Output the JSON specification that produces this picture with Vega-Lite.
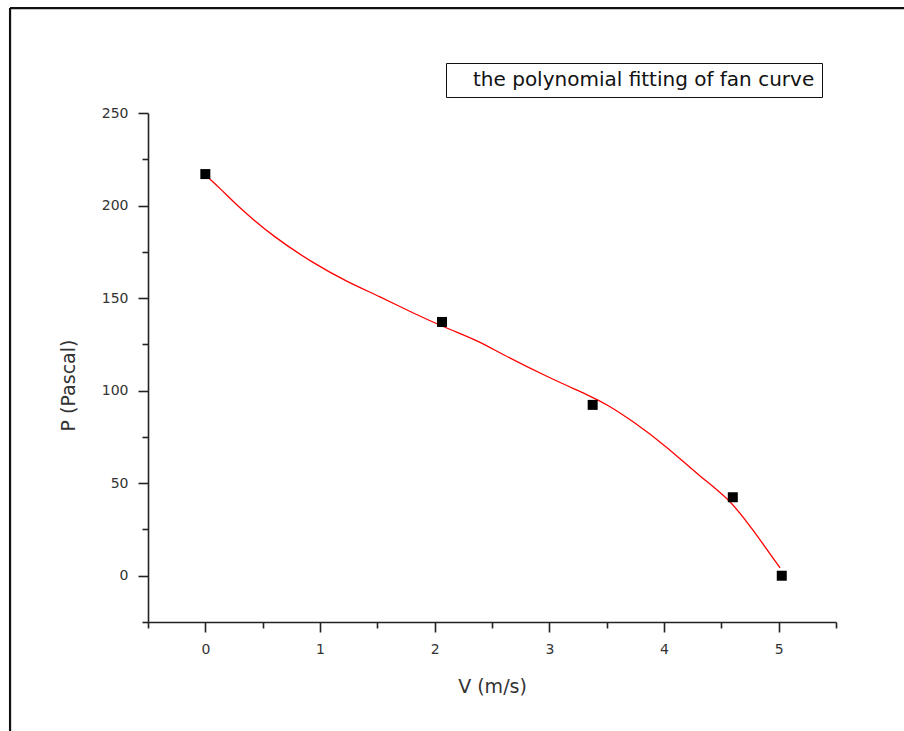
{
  "$schema": "https://vega.github.io/schema/vega-lite/v6.json",
  "autosize": "none",
  "width": 688,
  "height": 509,
  "padding": {"left": 148, "top": 113, "right": 68, "bottom": 109},
  "background": "white",
  "config": {
    "view": {"stroke": null},
    "axis": {
      "grid": false,
      "domainColor": "#222",
      "domainWidth": 1.6,
      "tickColor": "#222",
      "tickWidth": 1.6,
      "labelFont": "DejaVu Sans",
      "labelFontSize": 14,
      "labelColor": "#333",
      "titleFont": "DejaVu Sans",
      "titleFontSize": 19,
      "titleFontWeight": "normal",
      "titleColor": "#333"
    }
  },
  "datasets": {
    "measured": [
      {"v": 0.0, "p": 217},
      {"v": 2.064, "p": 137.1},
      {"v": 3.378, "p": 92.3},
      {"v": 4.6, "p": 42.4},
      {"v": 5.027, "p": 0}
    ],
    "fit": [
      {"v": 0.01, "p": 216, "series": "the polynomial fitting of fan curve"},
      {"v": 0.128, "p": 209.3, "series": "the polynomial fitting of fan curve"},
      {"v": 0.317, "p": 197.6, "series": "the polynomial fitting of fan curve"},
      {"v": 0.593, "p": 183.2, "series": "the polynomial fitting of fan curve"},
      {"v": 0.942, "p": 168.8, "series": "the polynomial fitting of fan curve"},
      {"v": 1.233, "p": 158.9, "series": "the polynomial fitting of fan curve"},
      {"v": 1.523, "p": 150.8, "series": "the polynomial fitting of fan curve"},
      {"v": 1.814, "p": 141.8, "series": "the polynomial fitting of fan curve"},
      {"v": 2.105, "p": 133.7, "series": "the polynomial fitting of fan curve"},
      {"v": 2.396, "p": 126.5, "series": "the polynomial fitting of fan curve"},
      {"v": 2.57, "p": 120.2, "series": "the polynomial fitting of fan curve"},
      {"v": 3.006, "p": 106.7, "series": "the polynomial fitting of fan curve"},
      {"v": 3.355, "p": 97.2, "series": "the polynomial fitting of fan curve"},
      {"v": 3.5, "p": 92.6, "series": "the polynomial fitting of fan curve"},
      {"v": 3.733, "p": 83.3, "series": "the polynomial fitting of fan curve"},
      {"v": 4.024, "p": 69.8, "series": "the polynomial fitting of fan curve"},
      {"v": 4.314, "p": 53.5, "series": "the polynomial fitting of fan curve"},
      {"v": 4.576, "p": 41.2, "series": "the polynomial fitting of fan curve"},
      {"v": 4.779, "p": 24.5, "series": "the polynomial fitting of fan curve"},
      {"v": 5.012, "p": 4.2, "series": "the polynomial fitting of fan curve"}
    ]
  },
  "layer": [
    {
      "data": {"values": [{}]},
      "mark": {"type": "rule", "color": "#111", "strokeWidth": 2.2, "clip": false},
      "encoding": {
        "x": {"datum": -1.703, "type": "quantitative"},
        "y": {"datum": 306.7, "type": "quantitative"},
        "y2": {"datum": -90}
      }
    },
    {
      "data": {"values": [{}]},
      "mark": {"type": "rule", "color": "#111", "strokeWidth": 2.2, "clip": false},
      "encoding": {
        "x": {"datum": -1.703, "type": "quantitative"},
        "x2": {"datum": 6.3},
        "y": {"datum": 306.7, "type": "quantitative"}
      }
    },
    {
      "data": {"name": "fit"},
      "mark": {"type": "line", "strokeWidth": 1.3, "interpolate": "basis"},
      "encoding": {
        "x": {"field": "v", "type": "quantitative"},
        "y": {"field": "p", "type": "quantitative"},
        "color": {
          "field": "series",
          "type": "nominal",
          "scale": {"range": ["#ff0000"]},
          "legend": {
            "title": null,
            "orient": "none",
            "legendX": 298,
            "legendY": -50,
            "strokeColor": "#111",
            "padding": 7,
            "fillColor": "white",
            "symbolSize": 0,
            "symbolOpacity": 0,
            "symbolStrokeWidth": 0,
            "labelOffset": 0,
            "labelFont": "DejaVu Sans",
            "labelFontSize": 20,
            "labelColor": "#111",
            "labelLimit": 500
          }
        }
      }
    },
    {
      "data": {"name": "measured"},
      "mark": {"type": "square", "size": 100, "color": "#000", "opacity": 1},
      "encoding": {
        "x": {
          "field": "v",
          "type": "quantitative",
          "scale": {"domain": [-0.5, 5.5], "nice": false, "zero": false},
          "axis": {
            "title": "V (m/s)",
            "values": [-0.5, 0, 0.5, 1, 1.5, 2, 2.5, 3, 3.5, 4, 4.5, 5, 5.5],
            "labelExpr": "datum.value % 1 === 0 ? format(datum.value, 'd') : ''",
            "tickSize": {"condition": {"test": "datum.value % 1 !== 0", "value": 6}, "value": 10},
            "labelPadding": 10,
            "labelFlush": false,
            "titleY": 55,
            "titleBaseline": "top"
          }
        },
        "y": {
          "field": "p",
          "type": "quantitative",
          "scale": {"domain": [-25, 250], "nice": false, "zero": false},
          "axis": {
            "title": "P (Pascal)",
            "values": [-25, 0, 25, 50, 75, 100, 125, 150, 175, 200, 225, 250],
            "labelExpr": "datum.value % 50 === 0 ? format(datum.value, 'd') : ''",
            "tickSize": {"condition": {"test": "datum.value % 50 !== 0", "value": 6}, "value": 10},
            "labelPadding": 10,
            "labelFlush": false,
            "titleX": -74,
            "titleY": 272,
            "titleAngle": 270,
            "titleAlign": "center",
            "titleBaseline": "alphabetic"
          }
        }
      }
    }
  ]
}
